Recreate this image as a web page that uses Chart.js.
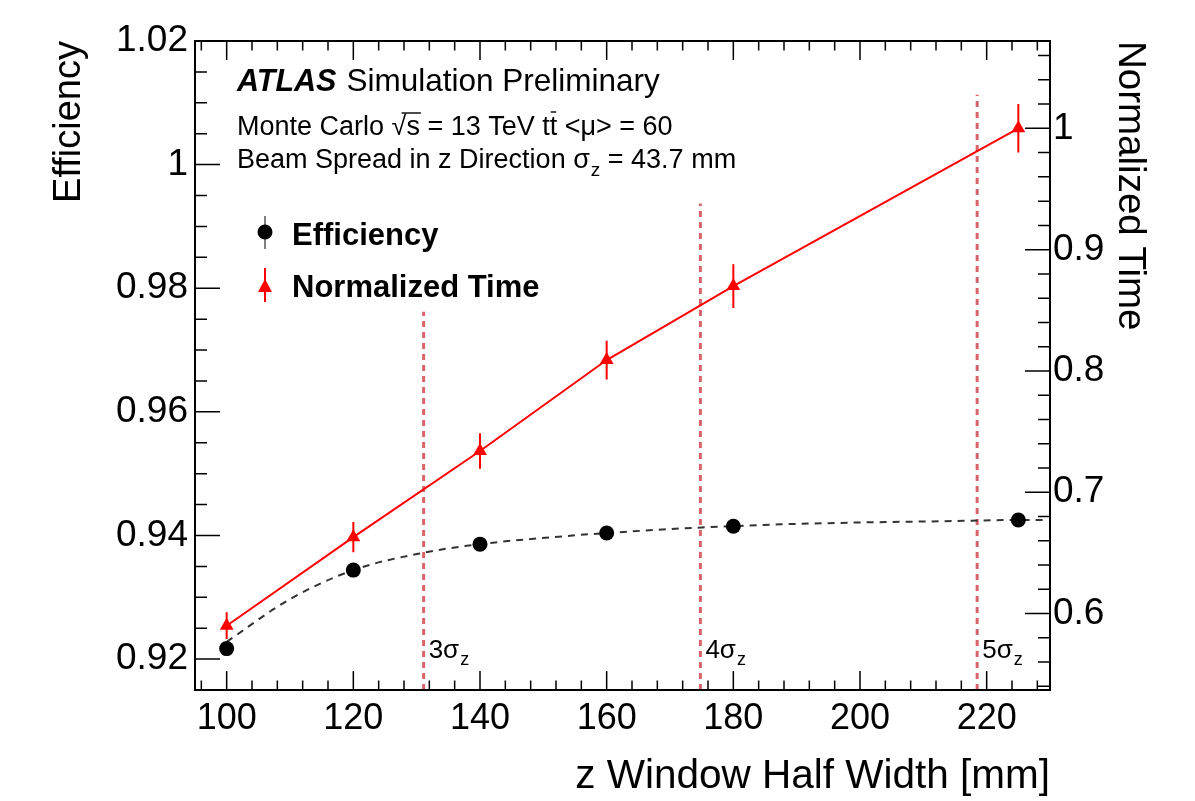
<!DOCTYPE html>
<html>
<head>
<meta charset="utf-8">
<script src="https://cdn.jsdelivr.net/npm/chart.js@4/dist/chart.umd.min.js"></script>
<style>
  body { margin: 0; background: #fff; }
  #wrap { width: 1195px; height: 801px; }
</style>
</head>
<body>
<div id="wrap"><canvas id="c" width="1195" height="801"></canvas></div>
<script>
// values
const xTicks = [100, 120, 140, 160, 180, 200, 220];
const leftTicks = [0.92, 0.94, 0.96, 0.98, 1, 1.02];
const rightTicks = [0.6, 0.7, 0.8, 0.9, 1];
const windowWidth = [100, 120, 140, 160, 180, 225];
const efficiency = [0.9217, 0.9344, 0.9386, 0.9404, 0.9415, 0.9425];
const normTime = [0.590, 0.663, 0.734, 0.809, 0.870, 1.000];
const normTimeErr = [0.011, 0.0124, 0.0146, 0.016, 0.018, 0.020];
// dashed fit curve through the efficiency points
const fitX = [100, 110, 120, 131, 140, 153.5, 160, 175, 187.5, 200, 212.5, 225, 229];
const fitEff = [0.9228, 0.9297, 0.9344, 0.9372, 0.9386, 0.9399, 0.9404, 0.9413, 0.9418, 0.9421, 0.9423, 0.9425, 0.9425];
// n sigma_z markers
const sigmaX = [131.1, 174.8, 218.5];
const sigmaTop = [0.9762, 0.9937, 1.0113];
const sigmaNames = ['3', '4', '5'];

const FONT = "'Liberation Sans', Arial, Helvetica, sans-serif";
const RED = '#ff0000';
const SIGMA_COL = '#d9646b';

const sigmaSets = sigmaX.map((x, i) => ({
  label: sigmaNames[i] + 'sigma',
  data: [{x: x, y: 0.915}, {x: x, y: sigmaTop[i]}],
  yAxisID: 'y',
  borderColor: SIGMA_COL,
  borderWidth: 3,
  borderDash: [6, 5],
  pointRadius: 0
}));

function fmt(v) { return String(+v.toFixed(3)); }

function drawTicks(ctx, scale, values, len, side, area) {
  ctx.beginPath();
  values.forEach(v => {
    const p = scale.getPixelForValue(v);
    if (side === 'bottom') { ctx.moveTo(p, area.bottom); ctx.lineTo(p, area.bottom - len); }
    if (side === 'top') { ctx.moveTo(p, area.top); ctx.lineTo(p, area.top + len); }
    if (side === 'left') { ctx.moveTo(area.left, p); ctx.lineTo(area.left + len, p); }
    if (side === 'right') { ctx.moveTo(area.right, p); ctx.lineTo(area.right - len, p); }
  });
  ctx.stroke();
}

function range(a, b, step) {
  const out = [];
  for (let v = a; v <= b + 1e-9; v += step) out.push(+v.toFixed(4));
  return out;
}

const frame = {
  id: 'frame',
  beforeDatasetsDraw(chart) {
    const {ctx, scales} = chart;
    ctx.save();
    // time error bars
    ctx.strokeStyle = RED;
    ctx.lineWidth = 2;
    ctx.beginPath();
    windowWidth.forEach((w, i) => {
      const px = scales.x.getPixelForValue(w);
      ctx.moveTo(px, scales.y2.getPixelForValue(normTime[i] + normTimeErr[i]));
      ctx.lineTo(px, scales.y2.getPixelForValue(normTime[i] - normTimeErr[i]));
    });
    ctx.stroke();
    ctx.restore();
  },
  afterDraw(chart) {
    const {ctx, chartArea: a, scales} = chart;
    ctx.save();
    ctx.strokeStyle = '#000';
    ctx.lineWidth = 1.5;
    const xMinor = range(96, 228, 4).filter(v => v % 20 !== 0);
    drawTicks(ctx, scales.x, xTicks, 19, 'bottom', a);
    drawTicks(ctx, scales.x, xMinor, 9.5, 'bottom', a);
    drawTicks(ctx, scales.x, xTicks, 19, 'top', a);
    drawTicks(ctx, scales.x, xMinor, 9.5, 'top', a);
    drawTicks(ctx, scales.y, leftTicks, 25, 'left', a);
    drawTicks(ctx, scales.y, range(0.915, 1.02, 0.005).filter(v => !leftTicks.some(t => Math.abs(t - v) < 1e-6)), 12, 'left', a);
    drawTicks(ctx, scales.y2, rightTicks, 25, 'right', a);
    drawTicks(ctx, scales.y2, range(0.54, 1.06, 0.02).filter(v => !rightTicks.some(t => Math.abs(t - v) < 1e-6)), 12, 'right', a);
    ctx.lineWidth = 2;
    ctx.strokeRect(a.left, a.top, a.right - a.left, a.bottom - a.top);

    // sigma labels
    ctx.fillStyle = '#000';
    ctx.textBaseline = 'alphabetic';
    sigmaX.forEach((x, i) => {
      let px = scales.x.getPixelForValue(x) + 5;
      ctx.font = '26px ' + FONT;
      ctx.fillText(sigmaNames[i] + 'σ', px, 658);
      px += ctx.measureText(sigmaNames[i] + 'σ').width + 1;
      ctx.font = '18px ' + FONT;
      ctx.fillText('z', px, 665);
    });

    // ATLAS text block
    let x = 237;
    ctx.font = 'italic bold 30.5px ' + FONT;
    ctx.fillText('ATLAS', x, 91);
    x += ctx.measureText('ATLAS').width + 10;
    ctx.font = '31.5px ' + FONT;
    ctx.fillText('Simulation Preliminary', x, 91);

    ctx.font = '27px ' + FONT;
    ctx.lineWidth = 1.4;
    x = 237;
    const y2 = 135;
    const put = (t) => { ctx.fillText(t, x, y2); const w = ctx.measureText(t).width; x += w; return w; };
    put('Monte Carlo ');
    const sq = x;
    put('√');
    put('s');
    ctx.beginPath(); ctx.moveTo(sq + 10, y2 - 22); ctx.lineTo(x + 1, y2 - 22); ctx.stroke();
    put(' = 13 TeV t');
    const tx = x;
    const tw = put('t');
    ctx.beginPath(); ctx.moveTo(tx + 1, y2 - 23); ctx.lineTo(tx + tw - 1, y2 - 23); ctx.stroke();
    put(' <μ> = 60');

    x = 237;
    ctx.fillText('Beam Spread in z Direction σ', x, 168);
    x += ctx.measureText('Beam Spread in z Direction σ').width + 1;
    ctx.font = '19px ' + FONT;
    ctx.fillText('z', x, 176);
    x += ctx.measureText('z').width;
    ctx.font = '27px ' + FONT;
    ctx.fillText(' = 43.7 mm', x, 168);

    // legend
    ctx.strokeStyle = '#000';
    ctx.lineWidth = 1;
    ctx.beginPath(); ctx.moveTo(265, 216); ctx.lineTo(265, 249); ctx.stroke();
    ctx.beginPath(); ctx.arc(265, 232, 7.5, 0, Math.PI * 2); ctx.fill();
    ctx.font = 'bold 31px ' + FONT;
    ctx.fillText('Efficiency', 292, 245);
    ctx.strokeStyle = RED;
    ctx.fillStyle = RED;
    ctx.lineWidth = 2;
    ctx.beginPath(); ctx.moveTo(265, 268); ctx.lineTo(265, 302); ctx.stroke();
    ctx.beginPath(); ctx.moveTo(265, 279); ctx.lineTo(272, 292); ctx.lineTo(258, 292); ctx.closePath(); ctx.fill();
    ctx.fillStyle = '#000';
    ctx.fillText('Normalized Time', 292, 297);
    ctx.restore();
  }
};

new Chart(document.getElementById('c'), {
  type: 'line',
  data: {
    datasets: [
      {
        label: 'Normalized Time',
        data: windowWidth.map((w, i) => ({x: w, y: normTime[i]})),
        yAxisID: 'y2',
        borderColor: RED,
        backgroundColor: RED,
        borderWidth: 2,
        pointStyle: 'triangle',
        pointRadius: 8,
        pointBorderWidth: 0
      },
      {
        label: 'Efficiency',
        data: windowWidth.map((w, i) => ({x: w, y: efficiency[i]})),
        yAxisID: 'y',
        showLine: false,
        backgroundColor: '#000',
        borderColor: '#000',
        pointRadius: 7.5,
        pointBorderWidth: 0
      },
      {
        label: 'Efficiency fit',
        data: fitX.map((w, i) => ({x: w, y: fitEff[i]})),
        yAxisID: 'y',
        borderColor: '#333',
        borderWidth: 2,
        borderDash: [7, 6],
        pointRadius: 0,
        cubicInterpolationMode: 'monotone'
      },
      ...sigmaSets
    ]
  },
  options: {
    responsive: false,
    animation: false,
    devicePixelRatio: 1,
    layout: { padding: { top: 41, left: 0, right: 0, bottom: 0 } },
    plugins: { legend: { display: false }, tooltip: { enabled: false } },
    scales: {
      x: {
        type: 'linear', position: 'bottom', min: 95, max: 230,
        grid: { display: false, drawTicks: false }, border: { display: false },
        afterBuildTicks: s => { s.ticks = xTicks.map(v => ({value: v})); },
        afterFit: s => { s.height = 111; },
        ticks: { font: { family: FONT, size: 36 }, color: '#000', padding: 7, maxRotation: 0, autoSkip: false },
        title: { display: true, text: 'z Window Half Width [mm]', align: 'end', color: '#000',
          font: { family: FONT, size: 40.5 }, padding: { top: 0, bottom: 0 } }
      },
      y: {
        position: 'left', min: 0.915, max: 1.02,
        grid: { display: false, drawTicks: false }, border: { display: false },
        afterBuildTicks: s => { s.ticks = leftTicks.map(v => ({value: v})); },
        afterFit: s => { s.width = 195; },
        ticks: { font: { family: FONT, size: 37 }, color: '#000', padding: 7, callback: v => fmt(v) },
        title: { display: true, text: 'Efficiency', align: 'end', color: '#000',
          font: { family: FONT, size: 38 }, padding: { top: 47, bottom: 0 } }
      },
      y2: {
        position: 'right', min: 0.537, max: 1.072,
        grid: { display: false, drawTicks: false }, border: { display: false },
        afterBuildTicks: s => { s.ticks = rightTicks.map(v => ({value: v})); },
        afterFit: s => { s.width = 145; },
        ticks: { font: { family: FONT, size: 37 }, color: '#000', padding: 3, callback: v => fmt(v) },
        title: { display: true, text: 'Normalized Time', align: 'end', color: '#000',
          font: { family: FONT, size: 38.5 }, padding: { top: 42, bottom: 0 } }
      }
    }
  },
  plugins: [frame]
});
</script>
</body>
</html>
